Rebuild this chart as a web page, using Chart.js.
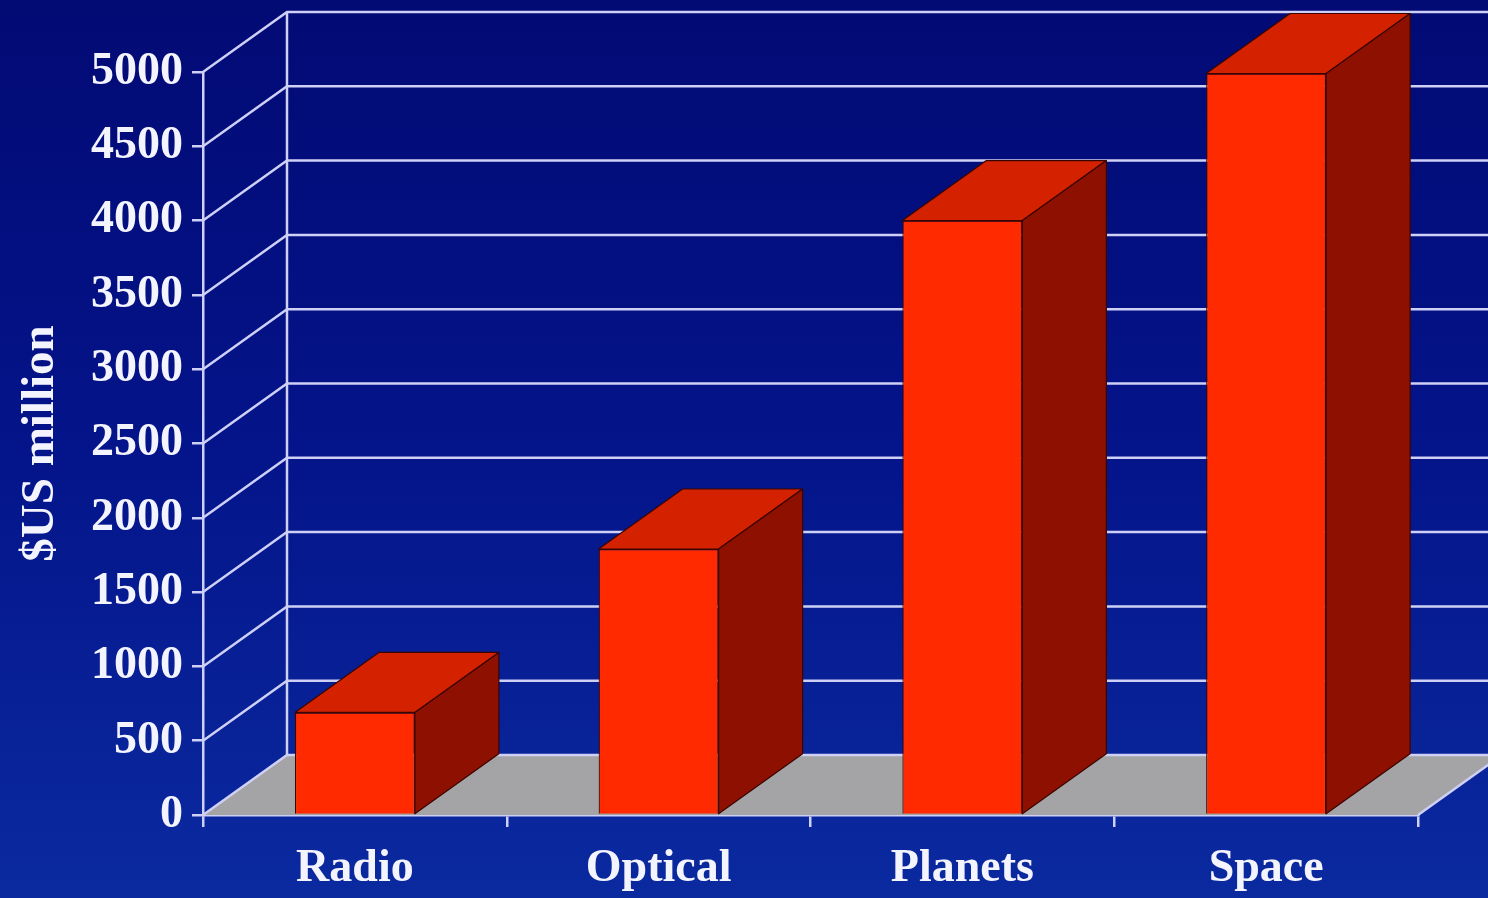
<!DOCTYPE html>
<html>
<head>
<meta charset="utf-8">
<script src="https://cdn.jsdelivr.net/npm/chart.js@4/dist/chart.umd.min.js"></script>
<style>
  html, body { margin: 0; padding: 0; background: #061a8c; }
  #wrap { width: 1488px; height: 898px; }
</style>
</head>
<body>
<div id="wrap"><canvas id="c" width="1488" height="898"></canvas></div>
<script>
// ---- data ----
const categories = ['Radio', 'Optical', 'Planets', 'Space'];
const costs = [690, 1790, 4000, 4990];
const yTickValues = [0, 500, 1000, 1500, 2000, 2500, 3000, 3500, 4000, 4500, 5000];
const yAxisTitle = '$US million';

// ---- styles ----
const gridColor = '#cfd0f6';
const textColor = '#f4f4ff';
const fontFamily = '"Liberation Serif", "Times New Roman", serif';
const depthX = 84, depthY = -60;

const threeD = {
  id: 'threeD',
  beforeDraw(chart) {
    const { ctx, width, height } = chart;
    const g = ctx.createLinearGradient(0, 0, 0, height);
    g.addColorStop(0, '#020a74');
    g.addColorStop(0.5, '#04148a');
    g.addColorStop(1, '#0b2aa0');
    ctx.save();
    ctx.fillStyle = g;
    ctx.fillRect(0, 0, width, height);
    ctx.restore();
  },
  beforeDatasetsDraw(chart) {
    const { ctx, chartArea: ca, scales } = chart;
    const y = scales.y;
    const y0 = y.getPixelForValue(0);
    const yTop = y.getPixelForValue(yTickValues[yTickValues.length - 1]);
    ctx.save();
    // floor
    ctx.fillStyle = '#a4a4a6';
    ctx.beginPath();
    ctx.moveTo(ca.left, y0);
    ctx.lineTo(ca.right, y0);
    ctx.lineTo(ca.right + depthX, y0 + depthY);
    ctx.lineTo(ca.left + depthX, y0 + depthY);
    ctx.closePath();
    ctx.fill();
    // walls grid
    ctx.strokeStyle = gridColor;
    ctx.lineWidth = 2.5;
    yTickValues.forEach(v => {
      const py = y.getPixelForValue(v);
      ctx.beginPath();
      ctx.moveTo(ca.left, py);
      ctx.lineTo(ca.left + depthX, py + depthY);
      ctx.lineTo(chart.width, py + depthY);
      ctx.stroke();
    });
    ctx.beginPath();
    ctx.moveTo(ca.left + depthX, yTop + depthY);
    ctx.lineTo(ca.left + depthX, y0 + depthY);
    ctx.stroke();
    ctx.beginPath();
    ctx.moveTo(ca.right, y0);
    ctx.lineTo(ca.right + depthX, y0 + depthY);
    ctx.stroke();
    ctx.restore();
  },
  afterDatasetsDraw(chart) {
    const { ctx } = chart;
    const meta = chart.getDatasetMeta(0);
    ctx.save();
    ctx.lineWidth = 1.2;
    ctx.strokeStyle = '#3a0500';
    ctx.lineJoin = 'round';
    meta.data.forEach(bar => {
      const p = bar.getProps(['x', 'y', 'base', 'width'], true);
      const l = p.x - p.width / 2, r = p.x + p.width / 2;
      // top face
      ctx.fillStyle = '#d42200';
      ctx.beginPath();
      ctx.moveTo(l, p.y);
      ctx.lineTo(r, p.y);
      ctx.lineTo(r + depthX, p.y + depthY);
      ctx.lineTo(l + depthX, p.y + depthY);
      ctx.closePath();
      ctx.fill();
      ctx.stroke();
      // side face
      ctx.fillStyle = '#8e1000';
      ctx.beginPath();
      ctx.moveTo(r, p.y);
      ctx.lineTo(r + depthX, p.y + depthY);
      ctx.lineTo(r + depthX, p.base + depthY);
      ctx.lineTo(r, p.base);
      ctx.closePath();
      ctx.fill();
      ctx.stroke();
    });
    ctx.restore();
  }
};

new Chart(document.getElementById('c'), {
  type: 'bar',
  data: {
    labels: categories,
    datasets: [{
      data: costs,
      backgroundColor: '#ff2a00',
      borderColor: '#3a0500',
      borderWidth: 1.2,
      barPercentage: 0.395,
      categoryPercentage: 1,
      clip: false
    }]
  },
  options: {
    responsive: false,
    animation: false,
    devicePixelRatio: 1,
    layout: { padding: { top: 72, right: 70, left: 0, bottom: 0 } },
    plugins: { legend: { display: false }, tooltip: { enabled: false } },
    scales: {
      x: {
        afterFit(s) { s.height = 83; },
        grid: { drawOnChartArea: false, drawTicks: true, tickLength: 12, color: gridColor, lineWidth: 2.5, offset: true },
        border: { display: true, color: gridColor, width: 2.5 },
        ticks: {
          color: textColor, padding: 15, autoSkip: false, maxRotation: 0,
          font: { family: fontFamily, size: 46, weight: 'bold' }
        }
      },
      y: {
        min: 0, max: 5000,
        afterFit(s) { s.width = 203; },
        afterBuildTicks(s) { s.ticks = yTickValues.map(v => ({ value: v })); },
        grid: { drawOnChartArea: false, drawTicks: true, tickLength: 11, color: gridColor, lineWidth: 2.5 },
        border: { display: true, color: gridColor, width: 2.5 },
        ticks: {
          color: textColor, padding: 9, autoSkip: false,
          callback: v => String(v),
          font: { family: fontFamily, size: 46, weight: 'bold' }
        },
        title: {
          display: true, text: yAxisTitle, color: textColor,
          padding: { top: 13, bottom: 0 },
          font: { family: fontFamily, size: 47, weight: 'bold' }
        }
      }
    }
  },
  plugins: [threeD]
});
</script>
</body>
</html>
